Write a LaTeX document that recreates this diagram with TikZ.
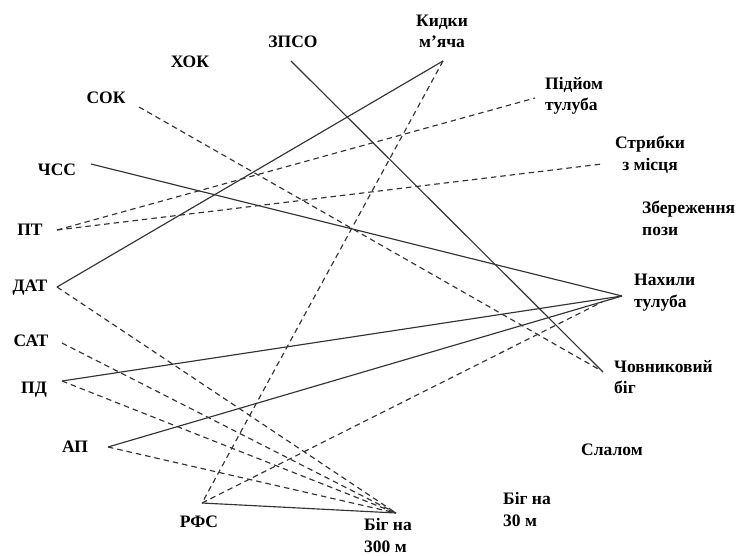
\documentclass[tikz,border=0pt]{standalone}
\usepackage{fontspec}
\setmainfont{Liberation Serif}
\begin{document}
\begin{tikzpicture}[x=1pt,y=-1pt,
  lbl/.style={font=\bfseries\fontsize{17.5}{21.5}\selectfont,inner sep=0pt,align=left},
  lblc/.style={font=\bfseries\fontsize{17.5}{21.5}\selectfont,inner sep=0pt,align=center},
  solidline/.style={draw=black!80,line width=1.15pt},
  dashline/.style={draw=black!80,line width=1.15pt,dash pattern=on 5.5pt off 4pt}]
\useasboundingbox (0,0) rectangle (741,555);
% labels
\node[lblc] (tHOK) at (190,62) {ХОК};
\node[lblc] (tZPSO) at (293,42) {ЗПСО};
\node[lblc] (tSOK) at (106,98) {СОК};
\node[lblc] (tCHSS) at (57,170) {ЧСС};
\node[lblc] (tPT) at (30,230) {ПТ};
\node[lblc] (tDAT) at (30,288) {ДАТ};
\node[lblc] (tSAT) at (31,341) {САТ};
\node[lblc] (tPD) at (34,390) {ПД};
\node[lblc] (tAP) at (75,447) {АП};
\node[lblc] (tRFS) at (199,522) {РФС};
\node[lbl,anchor=west] (tBig300) at (364,535.5) {Біг на\\300 м};
\node[lblc] (tKyd) at (442,31.5) {Кидки\\м’яча};
\node[lbl,anchor=west] (tPid) at (545,96) {Підйом\\тулуба};
\node[lblc] (tStr) at (650,155) {Стрибки\\з місця};
\node[lbl,anchor=west] (tZber) at (642,218.5) {Збереження\\пози};
\node[lbl,anchor=west] (tNakh) at (634,292.5) {Нахили\\тулуба};
\node[lbl,anchor=west] (tChov) at (614,377) {Човниковий\\біг};
\node[lbl,anchor=west] (tSlal) at (581,450) {Слалом};
\node[lbl,anchor=west] (tBig30) at (503,509.5) {Біг на\\30 м};
% connector end points
\coordinate (zpso) at (291,61);
\coordinate (chov) at (603,372);
\coordinate (chov2) at (600,370);
\coordinate (dat) at (57,287);
\coordinate (kyd) at (443,61);
\coordinate (rfs) at (202,503);
\coordinate (sok) at (139,107);
\coordinate (pt) at (57,230);
\coordinate (pid) at (535,98);
\coordinate (str) at (602,164);
\coordinate (chss) at (91,164);
\coordinate (nakh) at (622,296);
\coordinate (nakh2) at (602,302);
\coordinate (pd) at (62,381);
\coordinate (ap) at (108,447);
\coordinate (sat) at (62,343);
\coordinate (big) at (396,513);
% solid connectors
\draw[solidline] (zpso) -- (chov);
\draw[solidline] (dat) -- (kyd);
\draw[solidline] (chss) -- (nakh);
\draw[solidline] (pd) -- (nakh);
\draw[solidline] (ap) -- (nakh);
\draw[solidline] (rfs) -- (big);
% dashed connectors
\draw[dashline] (kyd) -- (rfs);
\draw[dashline] (sok) -- (chov2);
\draw[dashline] (pt) -- (pid);
\draw[dashline] (pt) -- (str);
\draw[dashline] (rfs) -- (nakh2);
\draw[dashline] (dat) -- (big);
\draw[dashline] (sat) -- (big);
\draw[dashline] (pd) -- (big);
\draw[dashline] (ap) -- (big);
\end{tikzpicture}
\end{document}
